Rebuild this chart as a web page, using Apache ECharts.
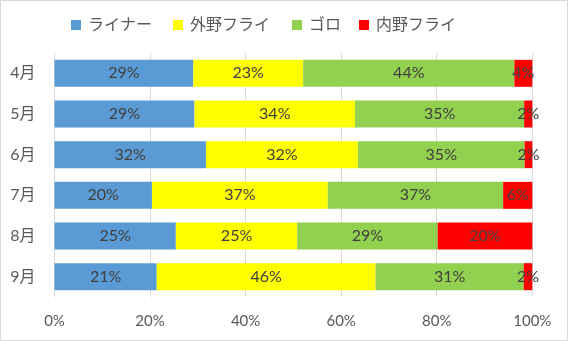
<!DOCTYPE html>
<html><head><meta charset="utf-8">
<script src="https://cdn.jsdelivr.net/npm/echarts@6/dist/echarts.min.js"></script>
<style>html,body{margin:0;padding:0;background:#fff}#c{width:568px;height:341px}</style>
</head><body><div id="c"></div>
<script>
const categories = ['4月','5月','6月','7月','8月','9月'];
const seriesNames = ['ライナー','外野フライ','ゴロ','内野フライ'];
const liner    = [29.05, 29.3, 31.7, 20.4, 25.4, 21.4];
const ofFly    = [23.0, 33.6, 31.8, 36.8, 25.4, 45.8];
const grounder = [44.2, 35.4, 34.9, 36.7, 29.4, 31.0];
const ifFly    = [3.8, 1.7, 1.6, 6.1, 19.8, 1.8];
const xTicks = [0, 20, 40, 60, 80, 100];
const colors = ['#5B9BD5','#FFFF00','#92D050','#FF0000'];

const font = "Lato, 'Noto Sans CJK JP', sans-serif";
const legendLefts = [71, 173, 292, 359];
const chart = echarts.init(document.getElementById('c'));
const dataSets = [liner, ofFly, grounder, ifFly];
chart.setOption({
  animation: false,
  graphic: [{type:'rect', shape:{x:0.5,y:0.5,width:567,height:340}, style:{fill:'none', stroke:'#d9d9d9', lineWidth:1}, silent:true}],
  legend: seriesNames.map((n, i) => ({
    top: 12, left: legendLefts[i] - 5, itemWidth: 10, itemHeight: 10,
    icon: 'rect',
    textStyle: {fontFamily: font, fontSize: 16, color: '#595959', padding:[0,0,0,2]},
    data: [n]
  })),
  grid: {left: 54.5, right: 35.7, top: 53, bottom: 44, containLabel: false},
  xAxis: {
    type: 'value', min: xTicks[0], max: xTicks[xTicks.length-1], interval: 20,
    axisLine: {show:false}, axisTick: {show:false},
    splitLine: {lineStyle: {color: '#d9d9d9', width: 1}},
    axisLabel: {formatter: '{value}%', fontFamily: font, fontSize: 15, color: '#595959', margin: 17}
  },
  yAxis: {
    type: 'category', data: categories, inverse: true,
    axisLine: {show:false}, axisTick: {show:false},
    axisLabel: {fontFamily: font, fontSize: 16, color: '#595959', margin: 19}
  },
  series: dataSets.map((d, i) => ({
    name: seriesNames[i], type: 'bar', stack: 'total', data: d,
    barWidth: 27,
    itemStyle: {color: colors[i]},
    label: {show: true, position: 'inside', fontFamily: font, fontSize: 16, color: '#404040',
      formatter: p => Math.round(p.value) + '%'}
  }))
});
</script></body></html>
